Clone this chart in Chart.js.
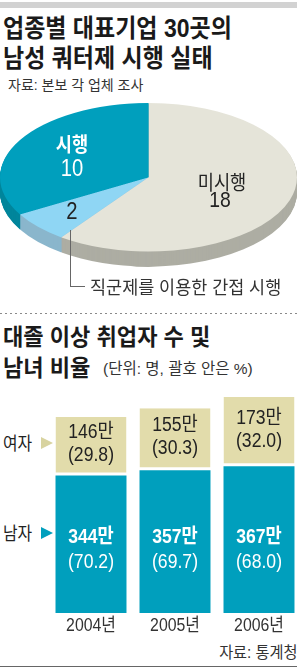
<!DOCTYPE html>
<html>
<head>
<meta charset="utf-8">
<script src="https://cdn.jsdelivr.net/npm/chart.js@4"></script>
<style>
  html, body { margin: 0; padding: 0; background: #fff; overflow: hidden; }
  #wrap { position: relative; width: 300px; height: 669px; overflow: hidden; font-family: "Liberation Sans", "Noto Sans CJK KR", sans-serif; color: #1a1a1a; }
  .t { position: absolute; white-space: nowrap; transform-origin: left center; }
  .c { position: absolute; white-space: nowrap; transform: translate(-50%, -50%) scaleX(0.88); }
  .h1 { font-size: 25px; line-height: 25px; font-weight: 700; transform: scaleX(0.92); }
  .h2 { font-size: 23px; line-height: 23px; font-weight: 700; transform: scaleX(0.96); }
  #topbar { position: absolute; left: 0; top: 2px; width: 297px; height: 6px; background: #d2d2d2; }
  #dots { position: absolute; left: 0; top: 313px; width: 297px; height: 1px;
          background: repeating-linear-gradient(to right, #8a8a8a 0 2px, transparent 2px 5px); }
  #bottomline { position: absolute; left: 0; top: 666px; width: 297px; height: 1px; background: #666; }
  #pie { position: absolute; left: 0; top: 103px; transform: scaleY(0.5); transform-origin: left top; }
  #bars { position: absolute; left: 49px; top: 385px; }
  .tri { position: absolute; width: 0; height: 0; border-top: 6.5px solid transparent; border-bottom: 6.5px solid transparent; border-left: 12px solid; }
  #leader { position: absolute; left: 70px; top: 230px; width: 14px; height: 56px; border-left: 1px solid #666; border-bottom: 1px solid #666; }
</style>
</head>
<body>
<div id="wrap">
  <div id="topbar"></div>
  <div class="t h1" style="left:3px; top:16px;">업종별 대표기업 30곳의</div>
  <div class="t h1" style="left:3px; top:46px;">남성 쿼터제 시행 실태</div>
  <div class="t" style="left:8px; top:78px; font-size:14px; line-height:14px; color:#333;">자료: 본보 각 업체 조사</div>

  <canvas id="pie" width="297" height="327"></canvas>
  <div class="c" style="left:72px; top:143px; font-size:20px; font-weight:700; color:#fff;">시행</div>
  <div class="c" style="left:72px; top:168px; font-size:23px; color:#fff;">10</div>
  <div class="c" style="left:222px; top:181px; font-size:20px; color:#222;">미시행</div>
  <div class="c" style="left:220px; top:200px; font-size:22px; color:#222;">18</div>
  <div class="c" style="left:72px; top:211px; font-size:23px; color:#222;">2</div>
  <div id="leader"></div>
  <div class="t" style="left:90px; top:279px; font-size:18px; line-height:18px; color:#333; transform:scaleX(0.97);">직군제를 이용한 간접 시행</div>

  <div id="dots"></div>
  <div class="t h2" style="left:3px; top:326px;">대졸 이상 취업자 수 및</div>
  <div class="t h2" style="left:3px; top:357px;">남녀 비율</div>
  <div class="t" style="left:103px; top:361px; font-size:15.5px; line-height:15px; color:#333;">(단위: 명, 괄호 안은 %)</div>

  <div class="t" style="left:3px; top:435px; font-size:18px; line-height:18px; color:#222; transform:scaleX(0.88);">여자</div>
  <div class="tri" style="left:41px; top:437px; border-left-color:#d8d3a0;"></div>
  <div class="t" style="left:3px; top:525px; font-size:18px; line-height:18px; color:#222; transform:scaleX(0.88);">남자</div>
  <div class="tri" style="left:41px; top:527px; border-left-color:#009fbd;"></div>

  <canvas id="bars" width="252" height="258"></canvas>

  <div class="t" style="right:3px; top:645px; font-size:16px; line-height:15px; color:#333; transform-origin:right center; transform:scaleX(0.95);">자료: 통계청</div>
  <div id="bottomline"></div>
</div>

<script>
// 파이 데이터 (시계방향, 12시부터)
const pieLabels = ['미시행', '간접 시행', '시행'];
const pieValues = [18, 2, 10];
const pieTop = ['#e5e4d9', '#8fd6f4', '#009fbd'];
const pieSide = ['#adada3', '#8ab6cc', '#00869c'];
const DEPTH = 30; // 캔버스 px, 화면에서는 절반

// 막대 데이터
const years = ['2004년', '2005년', '2006년'];
const maleVals = [344, 357, 367];
const femaleVals = [146, 155, 173];
const malePct = ['70.2', '69.7', '68.0'];
const femalePct = ['29.8', '30.3', '32.0'];

const FONT = '"Liberation Sans", "Noto Sans CJK KR", sans-serif';

// 옆면(두께) 그리기
const depthPlugin = {
  id: 'depth',
  beforeDatasetsDraw(chart) {
    const ctx = chart.ctx;
    const arcs = chart.getDatasetMeta(0).data;
    for (let d = DEPTH; d > 0; d--) {
      arcs.forEach((arc, i) => {
        const p = arc.getProps(['x', 'y', 'startAngle', 'endAngle', 'outerRadius']);
        ctx.fillStyle = pieSide[i];
        ctx.beginPath();
        ctx.moveTo(p.x, p.y + d);
        ctx.arc(p.x, p.y + d, p.outerRadius, p.startAngle, p.endAngle);
        ctx.closePath();
        ctx.fill();
      });
    }
  }
};

new Chart(document.getElementById('pie'), {
  type: 'pie',
  data: {
    labels: pieLabels,
    datasets: [{ data: pieValues, backgroundColor: pieTop, borderWidth: 0 }]
  },
  options: {
    responsive: false,
    animation: false,
    layout: { padding: { bottom: DEPTH } },
    plugins: { legend: { display: false }, tooltip: { enabled: false } }
  },
  plugins: [depthPlugin]
});

function drawText(ctx, txt, x, y, font, color) {
  ctx.save();
  ctx.translate(x, y);
  ctx.scale(0.88, 1);
  ctx.font = font;
  ctx.fillStyle = color;
  ctx.textAlign = 'center';
  ctx.textBaseline = 'middle';
  ctx.fillText(txt, 0, 0);
  ctx.restore();
}

const barLabelPlugin = {
  id: 'barLabels',
  afterDatasetsDraw(chart) {
    const ctx = chart.ctx;
    const male = chart.getDatasetMeta(0).data;
    const fem = chart.getDatasetMeta(1).data;
    const ys = chart.scales.y;
    const xs = chart.scales.x;
    const mid = ys.getPixelForValue(160);
    male.forEach((bar, i) => {
      drawText(ctx, maleVals[i] + '만', bar.x, mid - 12, 'bold 20px ' + FONT, '#fff');
      drawText(ctx, '(' + malePct[i] + ')', bar.x, mid + 13, '20px ' + FONT, '#fff');
    });
    fem.forEach((bar, i) => {
      const cy = (bar.y + bar.base - 3) / 2;
      drawText(ctx, femaleVals[i] + '만', bar.x, cy - 12, '20px ' + FONT, '#222');
      drawText(ctx, '(' + femalePct[i] + ')', bar.x, cy + 11, '20px ' + FONT, '#222');
    });
    years.forEach((y, i) => {
      drawText(ctx, y, xs.getPixelForValue(i), chart.chartArea.bottom + 13, '18px ' + FONT, '#333');
    });
  }
};

new Chart(document.getElementById('bars'), {
  type: 'bar',
  data: {
    labels: years,
    datasets: [
      { label: '남자', data: maleVals, backgroundColor: '#009fbd', borderWidth: 0, stack: 's' },
      { label: '여자', data: femaleVals, backgroundColor: '#e2dcab', borderColor: '#ffffff',
        borderWidth: { top: 0, right: 0, bottom: 3, left: 0 }, borderSkipped: false, stack: 's' }
    ]
  },
  options: {
    responsive: false,
    animation: false,
    layout: { padding: { bottom: 30 } },
    datasets: { bar: { categoryPercentage: 1, barPercentage: 0.845 } },
    scales: {
      x: { stacked: true, display: false },
      y: { stacked: true, display: false, min: 0, max: 570 }
    },
    plugins: { legend: { display: false }, tooltip: { enabled: false } }
  },
  plugins: [barLabelPlugin]
});
</script>
</body>
</html>
